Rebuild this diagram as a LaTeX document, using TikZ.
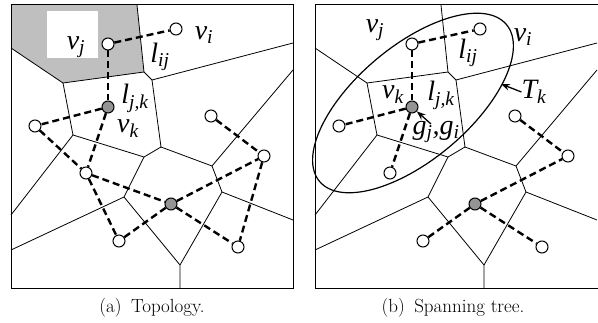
\documentclass[tikz,border=0pt]{standalone}
\usepackage{fontspec}
\newfontfamily\labfont{Liberation Serif}
\usetikzlibrary{arrows.meta}

% voronoi cells, drawn in both panels
\newcommand\cells{%
  \draw[cell] (137,5) -- (144,72) -- (152,80) -- (293,43);
  \draw[cell] (11,48) -- (63,83) -- (144,72);
  \draw[cell] (63,83) -- (73,135) -- (11,215);
  \draw[cell] (73,135) -- (144,157) -- (161,147) -- (152,80);
  \draw[cell] (144,157) -- (124,197) -- (11,250);
  \draw[cell] (124,197) -- (180,265) -- (180,289);
  \draw[cell] (180,265) -- (222,192) -- (293,220);
  \draw[cell] (222,192) -- (212,166) -- (293,70);
  \draw[cell] (161,147) -- (212,166);
}
% sensor positions
\newcommand\sensors{%
  \node[sensor] (vj) at (108,44) {};
  \node[sensor] (vi) at (176,29) {};
  \node[head] (vk) at (108,107) {};
  \node[sensor] (va) at (35,126) {};
  \node[sensor] (vb) at (86,173) {};
  \node[sensor] (vc) at (119,241) {};
  \node[head] (hub) at (171,204) {};
  \node[sensor] (vd) at (238,247) {};
  \node[sensor] (ve) at (264,156) {};
  \node[sensor] (vf) at (211,116) {};
}

\begin{document}
\begin{tikzpicture}[
  x=1pt, y=-1pt,
  >=Stealth,
  cell/.style={line width=0.8pt},
  frame/.style={line width=1pt},
  sensor/.style={circle,draw,fill=white,line width=1pt,minimum size=12pt,inner sep=0pt},
  head/.style={sensor,fill=black!42},
  link/.style={line width=2.4pt,dash pattern=on 7pt off 4pt},
  lab/.style={font=\labfont\itshape\fontsize{28}{30}\selectfont,inner sep=0pt},
  subcap/.style={font=\fontsize{19}{22}\selectfont,inner sep=0pt}
]
  \useasboundingbox (0,0) rectangle (598,323);

  % (a) topology
  \begin{scope}
    \fill[black!25] (11,5) -- (137,5) -- (144,72) -- (63,83) -- (11,48) -- cycle;
    \fill[white] (47,11) rectangle (98,58);
    \cells
    \draw[frame] (11,5) rectangle (293,289);
    \sensors
    \draw[link] (vj) -- (vi);
    \draw[link] (vj) -- (vk);
    \draw[link] (vk) -- (va);
    \draw[link] (vk) -- (vb);
    \draw[link] (va) -- (vb);
    \draw[link] (vb) -- (hub);
    \draw[link] (vb) -- (vc);
    \draw[link] (vc) -- (hub);
    \draw[link] (hub) -- (ve);
    \draw[link] (hub) -- (vd);
    \draw[link] (ve) -- (vd);
    \draw[link] (vf) -- (ve);
    \node[lab] (lvj) at (76,47) {v\textsubscript{j}};
    \node[lab] (lvi) at (204,35) {v\textsubscript{i}};
    \node[lab] (lij) at (160,57) {l\textsubscript{ij}};
    \node[lab] (ljk) at (135,98) {l\textsubscript{j,k}};
    \node[lab] (lvk) at (128,129) {v\textsubscript{k}};
  \end{scope}

  % (b) spanning tree
  \begin{scope}[xshift=304pt, name prefix=b-]
    \cells
    \draw[frame] (297,5) -- (11,5) -- (11,289) -- (297,289);
    \draw[line width=1.2pt, rotate around={40:(109,103)}] (109,103) ellipse [x radius=122, y radius=57];
    \sensors
    \draw[link] (vj) -- (vi);
    \draw[link] (vj) -- (vk);
    \draw[link] (vk) -- (va);
    \draw[link] (vk) -- (vb);
    \draw[link] (vc) -- (hub);
    \draw[link] (hub) -- (ve);
    \draw[link] (hub) -- (vd);
    \draw[link] (vf) -- (ve);
    \node[lab] (lvj) at (71,30) {v\textsubscript{j}};
    \node[lab] (lvi) at (219,37) {v\textsubscript{i}};
    \node[lab] (lij) at (164,53) {l\textsubscript{ij}};
    \node[lab] (lvk) at (89,95) {v\textsubscript{k}};
    \node[lab] (ljk) at (137,95) {l\textsubscript{j,k}};
    \node[lab] (tk) at (230,92) {T\textsubscript{k}};
    \node[lab] (gji) at (132,132) {g\textsubscript{j},g\textsubscript{i}};
    \coordinate (tkend) at (197,84);
    \coordinate (gtail) at (127,124);
    \draw[->,line width=1.3pt] (tk.west) -- (tkend);
    \draw[->,line width=1.3pt] (gtail) -- (vk);
  \end{scope}

  \node[subcap] (capa) at (152,308) {(a)\enspace Topology.};
  \node[subcap] (capb) at (453,308) {(b)\enspace Spanning tree.};
\end{tikzpicture}
\end{document}
